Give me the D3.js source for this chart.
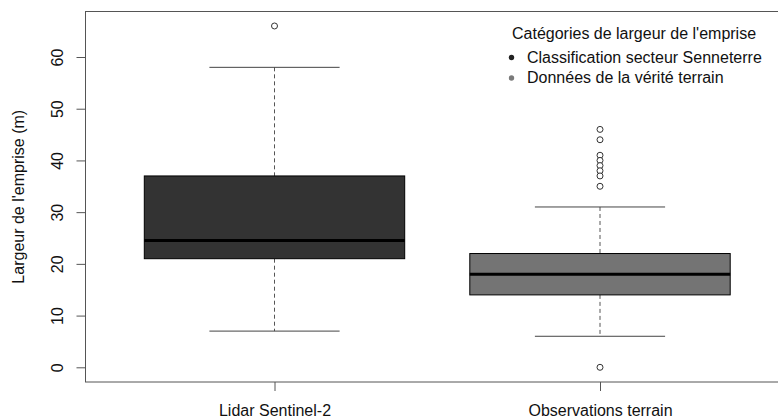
<!DOCTYPE html>
<html>
<head>
<meta charset="utf-8">
<script src="https://cdn.jsdelivr.net/npm/d3@7"></script>
<style>
  html, body { margin: 0; padding: 0; background: #fff; }
  svg { display: block; font-family: "Liberation Sans", Arial, sans-serif; }
</style>
</head>
<body>
<svg id="chart" width="778" height="420"></svg>
<script>
// Box summaries per category (metres)
const categories   = ["Lidar Sentinel-2", "Observations terrain"];
const whiskerLow   = [7, 6];
const q1           = [21, 14];
const median       = [24.5, 18];
const q3           = [37, 22];
const whiskerHigh  = [58, 31];
const outliers     = [[66], [46, 44, 41, 40, 39, 38, 37, 35, 0]];
const boxFills     = ["#333333", "#747474"];
const yTicks       = [0, 10, 20, 30, 40, 50, 60];
const legendTitle  = "Catégories de largeur de l'emprise";
const legendLabels = ["Classification secteur Senneterre", "Données de la vérité terrain"];
const legendColors = ["#222222", "#7a7a7a"];

const FONT = 16;
const svg = d3.select("#chart");

const frame = { left: 85.5, top: 11.5, right: 790, bottom: 382 };

const x = d3.scaleLinear().domain([1, 2]).range([274.5, 600]);
const y = d3.scaleLinear().domain([0, 60]).range([367.3, 57]);

const boxHalf = 0.4, capHalf = 0.2;
const unit = x(2) - x(1);

// plot frame
svg.append("rect")
  .attr("x", frame.left).attr("y", frame.top)
  .attr("width", frame.right - frame.left).attr("height", frame.bottom - frame.top)
  .attr("fill", "none").attr("stroke", "#555").attr("stroke-width", 1);

// y axis with rotated tick labels
const yAxis = svg.append("g").attr("transform", `translate(${frame.left},0)`)
  .call(d3.axisLeft(y).tickValues(yTicks).tickSize(9));
yAxis.select(".domain").remove();
yAxis.selectAll(".tick line").attr("stroke", "#555");
yAxis.selectAll(".tick text")
  .attr("font-size", FONT).attr("fill", "#111")
  .attr("text-anchor", "middle")
  .attr("x", 0).attr("y", 0).attr("dy", 0)
  .attr("transform", "translate(-22.5,0) rotate(-90)");

// x axis
const xAxis = svg.append("g").attr("transform", `translate(0,${frame.bottom})`)
  .call(d3.axisBottom(x).tickValues([1, 2]).tickSize(9)
    .tickFormat((d, i) => categories[i]));
xAxis.select(".domain").remove();
xAxis.selectAll(".tick line").attr("stroke", "#555");
xAxis.selectAll(".tick text").attr("font-size", FONT).attr("fill", "#111")
  .attr("dy", 0).attr("y", 33.5);

// y axis title
svg.append("text")
  .attr("transform", `translate(24,${(frame.top + frame.bottom) / 2}) rotate(-90)`)
  .attr("text-anchor", "middle").attr("font-size", FONT).attr("fill", "#111")
  .text("Largeur de l'emprise (m)");

// boxes
categories.forEach((c, i) => {
  const cx = x(i + 1);
  const g = svg.append("g");
  // whiskers (dashed)
  g.append("line").attr("x1", cx).attr("x2", cx)
    .attr("y1", y(whiskerHigh[i])).attr("y2", y(q3[i]))
    .attr("stroke", "#555").attr("stroke-dasharray", "4,3");
  g.append("line").attr("x1", cx).attr("x2", cx)
    .attr("y1", y(q1[i])).attr("y2", y(whiskerLow[i]))
    .attr("stroke", "#555").attr("stroke-dasharray", "4,3");
  // caps
  [whiskerHigh[i], whiskerLow[i]].forEach(v => {
    g.append("line")
      .attr("x1", cx - capHalf * unit).attr("x2", cx + capHalf * unit)
      .attr("y1", y(v)).attr("y2", y(v))
      .attr("stroke", "#444");
  });
  // box
  g.append("rect")
    .attr("x", cx - boxHalf * unit).attr("width", 2 * boxHalf * unit)
    .attr("y", y(q3[i])).attr("height", y(q1[i]) - y(q3[i]))
    .attr("fill", boxFills[i]).attr("stroke", "#000").attr("stroke-width", 1);
  // median
  g.append("line")
    .attr("x1", cx - boxHalf * unit).attr("x2", cx + boxHalf * unit)
    .attr("y1", y(median[i])).attr("y2", y(median[i]))
    .attr("stroke", "#000").attr("stroke-width", 3);
  // outliers
  g.selectAll("circle").data(outliers[i]).join("circle")
    .attr("cx", cx).attr("cy", d => y(d)).attr("r", 3)
    .attr("fill", "#fff").attr("stroke", "#333").attr("stroke-width", 1);
});

// legend
const lg = svg.append("g");
lg.append("text").attr("x", 512).attr("y", 38.5)
  .attr("font-size", FONT).attr("fill", "#111").text(legendTitle);
legendLabels.forEach((lab, i) => {
  const yy = 57.5 + i * 20.5;
  lg.append("circle").attr("cx", 511.5).attr("cy", yy).attr("r", 2.7)
    .attr("fill", legendColors[i]);
  lg.append("text").attr("x", 527).attr("y", yy + 5)
    .attr("font-size", FONT).attr("fill", "#111").text(lab);
});
</script>
</body>
</html>
